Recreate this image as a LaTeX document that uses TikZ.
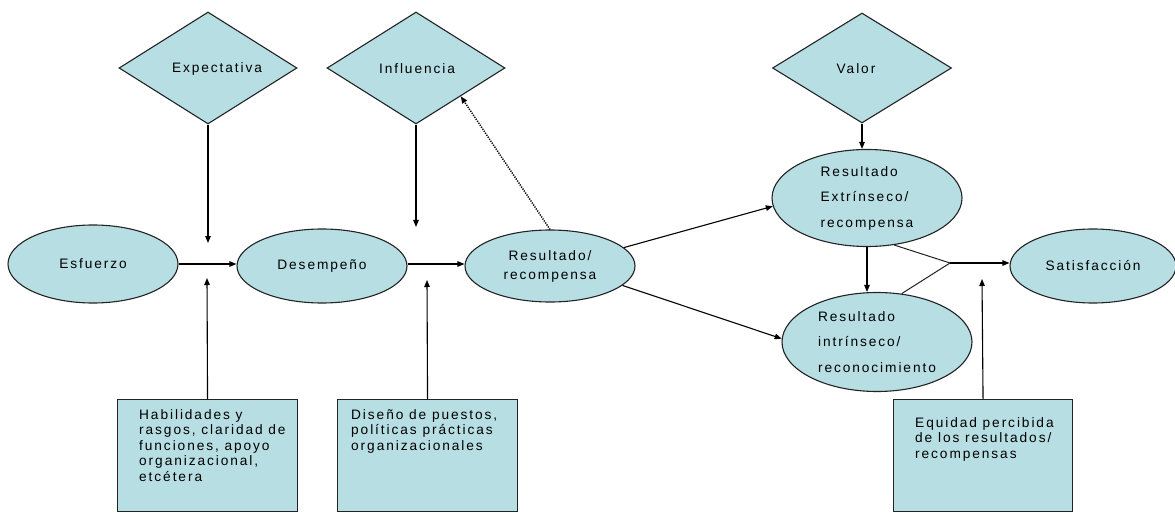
\documentclass[tikz,border=0pt]{standalone}
\usepackage{fontspec}
\setmainfont{Liberation Sans}[LetterSpace=14]
\usetikzlibrary{shapes.geometric,arrows.meta}
\definecolor{fillc}{RGB}{182,222,227}
\definecolor{linec}{RGB}{35,35,35}
\begin{document}
\begin{tikzpicture}[x=1pt,y=-1pt,
  txt/.style={font=\fontsize{13.7}{15.5}\selectfont, text=black},
  ell/.style={ellipse, draw=linec, fill=fillc, line width=1.1pt, inner sep=0pt, txt},
  dia/.style={diamond, draw=linec, fill=fillc, line width=1.1pt, inner sep=0pt, txt},
  boxn/.style={rectangle, draw=linec, fill=fillc, line width=1.1pt, inner sep=0pt, anchor=north west},
  btxt/.style={txt, inner sep=0pt, anchor=north west, align=left},
  arr/.style={-{Triangle[length=7pt,width=5.5pt]}, line width=1.1pt, draw=black},
  ln/.style={line width=1pt, draw=linec}]
\fill[white] (0,0) rectangle (1175,513);
\useasboundingbox (0,0) rectangle (1175,513);

% diamonds
\node[dia, minimum width=178pt, minimum height=112pt] (exp) at (208,68) {};
\node[dia, minimum width=178pt, minimum height=112pt] (inf) at (416,68) {};
\node[dia, minimum width=179pt, minimum height=110pt] (val) at (862,68) {};
\node[txt] (expt) at (217,69) {Expectativa};
\node[txt] (inft) at (417,69) {Influencia};
\node[txt] (valt) at (856,69) {Valor};

% ellipses
\node[ell, minimum width=170pt, minimum height=78pt] (esf) at (93,264) {Esfuerzo};
\node[ell, minimum width=170pt, minimum height=74pt] (des) at (322,266) {Desempeño};
\node[ell, minimum width=170pt, minimum height=72pt, align=center,
      font=\fontsize{13.7}{19}\selectfont] (res) at (550,266) {Resultado/\\recompensa};
\node[ell, minimum width=190pt, minimum height=97pt, align=left,
      font=\fontsize{13.7}{25.5}\selectfont] (ext) at (867,198) {Resultado\\Extrínseco/\\recompensa};
\node[ell, minimum width=190pt, minimum height=99pt, align=left,
      font=\fontsize{13.7}{25.5}\selectfont] (int) at (877,342) {Resultado\\intrínseco/\\reconocimiento};
\node[ell, minimum width=166pt, minimum height=74pt] (sat) at (1093,266) {Satisfacción};

% boxes
\node[boxn, minimum width=180pt, minimum height=112pt] (hab) at (117,399) {};
\node[boxn, minimum width=180pt, minimum height=112pt] (dis) at (337,399) {};
\node[boxn, minimum width=179pt, minimum height=112pt] (equ) at (893,399) {};
\node[btxt] (habt) at (139,409) {Habilidades y\\rasgos, claridad de\\funciones, apoyo\\organizacional,\\etcétera};
\node[btxt] (dist) at (351,409) {Diseño de puestos,\\políticas prácticas\\organizacionales};
\node[btxt] (equt) at (915,417) {Equidad percibida\\de los resultados/\\recompensas};

% free ends
\coordinate (expend) at (208,243);
\coordinate (infend) at (416,227);
\coordinate (habend) at (207,278);
\coordinate (disend) at (427,280);
\coordinate (equend) at (982,279);
\coordinate (m) at (950,263);

% connectors
\draw[arr] (exp.south) -- (expend);
\draw[arr] (inf.south) -- (infend);
\draw[arr] (hab.north) -- (habend);
\draw[arr] (dis.north) -- (disend);
\draw[arr] (equ.north) -- (equend);
\draw[arr] (esf.east) -- (des.west |- esf.east);
\draw[arr] (des.east |- esf.east) -- (res.west |- esf.east);
\draw[arr, line width=1.5pt, dash pattern=on 1.2pt off 1.2pt] (res.north) -- (inf.south east);
\draw[arr] (res.14) -- (ext.185);
\draw[arr] (res.-15) -- (int.178);
\draw[arr] (val.south) -- (val.south |- ext.north);
\draw[arr] (ext.south) -- (ext.south |- int.north);
\draw[ln] (ext.-60) -- (m);
\draw[ln] (int.63) -- (m);
\draw[arr] (m) -- (m -| sat.west);
\end{tikzpicture}
\end{document}
